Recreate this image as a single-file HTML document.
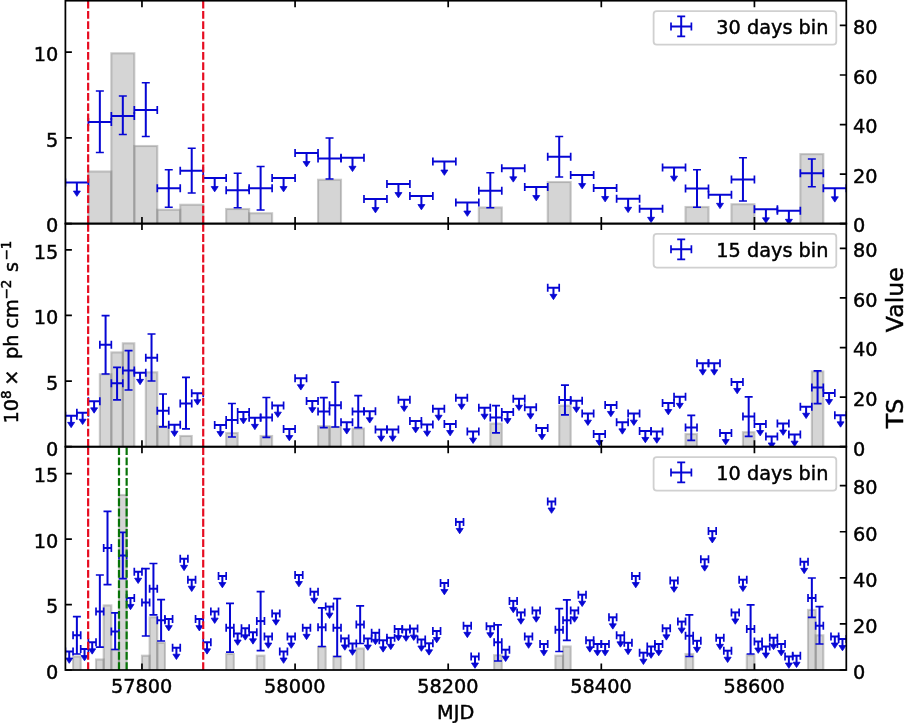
<!DOCTYPE html>
<html lang="en">
<head>
<meta charset="utf-8">
<title>Light curve</title>
<style>html,body{margin:0;padding:0;background:#fff}body{width:904px;height:723px;overflow:hidden}</style>
</head>
<body>
<svg width="904" height="723" viewBox="0 0 904 723" style="display:block;will-change:transform">
<rect x="0" y="0" width="904" height="723" fill="#ffffff"/>
<defs>
<clipPath id="c0"><rect x="65.4" y="0.7" width="780.9" height="222.9"/></clipPath>
<clipPath id="c1"><rect x="65.4" y="223.6" width="780.9" height="223.1"/></clipPath>
<clipPath id="c2"><rect x="65.4" y="446.7" width="780.9" height="223.3"/></clipPath>
</defs>
<g clip-path="url(#c0)">
<g fill="#808080" fill-opacity="0.335" stroke="#808080" stroke-opacity="0.42" stroke-width="2.1">
<rect x="88.37" y="171.5" width="22.97" height="55.1"/>
<rect x="111.34" y="53.3" width="22.97" height="173.3"/>
<rect x="134.3" y="146" width="22.97" height="80.6"/>
<rect x="157.27" y="209.75" width="22.97" height="16.85"/>
<rect x="180.24" y="204.75" width="22.97" height="21.85"/>
<rect x="226.17" y="209" width="22.97" height="17.6"/>
<rect x="249.14" y="213.25" width="22.97" height="13.35"/>
<rect x="318.04" y="179.75" width="22.97" height="46.85"/>
<rect x="478.82" y="207.5" width="22.97" height="19.1"/>
<rect x="547.72" y="182" width="22.97" height="44.6"/>
<rect x="685.53" y="207" width="22.97" height="19.6"/>
<rect x="731.46" y="204.25" width="22.97" height="22.35"/>
<rect x="800.36" y="154.1" width="22.97" height="72.5"/>
</g>
<g stroke="#0606d4" fill="#0606d4" stroke-linecap="butt">
<path d="M65.4 182.5H88.37" stroke-width="2.0"/>
<path d="M65.4 178.5V186.5M88.37 178.5V186.5" stroke-width="1.7"/>
<path d="M76.88 182.5V191.57" stroke-width="2.0"/>
<path d="M73.38 191.07L80.38 191.07L76.88 196.37Z" stroke-width="0.8" stroke-linejoin="miter"/>
<path d="M88.37 122H111.34" stroke-width="2.0"/>
<path d="M88.37 118V126M111.34 118V126" stroke-width="1.7"/>
<path d="M99.85 91V152.5" stroke-width="2.0"/>
<path d="M95.85 91H103.85M95.85 152.5H103.85" stroke-width="1.7"/>
<path d="M111.34 116H134.3" stroke-width="2.0"/>
<path d="M111.34 112V120M134.3 112V120" stroke-width="1.7"/>
<path d="M122.82 96V134.5" stroke-width="2.0"/>
<path d="M118.82 96H126.82M118.82 134.5H126.82" stroke-width="1.7"/>
<path d="M134.3 110H157.27" stroke-width="2.0"/>
<path d="M134.3 106V114M157.27 106V114" stroke-width="1.7"/>
<path d="M145.79 82.75V136.5" stroke-width="2.0"/>
<path d="M141.79 82.75H149.79M141.79 136.5H149.79" stroke-width="1.7"/>
<path d="M157.27 188.25H180.24" stroke-width="2.0"/>
<path d="M157.27 184.25V192.25M180.24 184.25V192.25" stroke-width="1.7"/>
<path d="M168.75 169.75V207.25" stroke-width="2.0"/>
<path d="M164.75 169.75H172.75M164.75 207.25H172.75" stroke-width="1.7"/>
<path d="M180.24 170.75H203.21" stroke-width="2.0"/>
<path d="M180.24 166.75V174.75M203.21 166.75V174.75" stroke-width="1.7"/>
<path d="M191.72 148.25V193" stroke-width="2.0"/>
<path d="M187.72 148.25H195.72M187.72 193H195.72" stroke-width="1.7"/>
<path d="M203.21 178H226.17" stroke-width="2.0"/>
<path d="M203.21 174V182M226.17 174V182" stroke-width="1.7"/>
<path d="M214.69 178V187.07" stroke-width="2.0"/>
<path d="M211.19 186.57L218.19 186.57L214.69 191.87Z" stroke-width="0.8" stroke-linejoin="miter"/>
<path d="M226.17 190.25H249.14" stroke-width="2.0"/>
<path d="M226.17 186.25V194.25M249.14 186.25V194.25" stroke-width="1.7"/>
<path d="M237.66 173.25V207.75" stroke-width="2.0"/>
<path d="M233.66 173.25H241.66M233.66 207.75H241.66" stroke-width="1.7"/>
<path d="M249.14 188.25H272.11" stroke-width="2.0"/>
<path d="M249.14 184.25V192.25M272.11 184.25V192.25" stroke-width="1.7"/>
<path d="M260.62 166.5V210" stroke-width="2.0"/>
<path d="M256.62 166.5H264.62M256.62 210H264.62" stroke-width="1.7"/>
<path d="M272.11 178H295.08" stroke-width="2.0"/>
<path d="M272.11 174V182M295.08 174V182" stroke-width="1.7"/>
<path d="M283.59 178V187.07" stroke-width="2.0"/>
<path d="M280.09 186.57L287.09 186.57L283.59 191.87Z" stroke-width="0.8" stroke-linejoin="miter"/>
<path d="M295.08 153H318.04" stroke-width="2.0"/>
<path d="M295.08 149V157M318.04 149V157" stroke-width="1.7"/>
<path d="M306.56 153V162.07" stroke-width="2.0"/>
<path d="M303.06 161.57L310.06 161.57L306.56 166.87Z" stroke-width="0.8" stroke-linejoin="miter"/>
<path d="M318.04 158.5H341.01" stroke-width="2.0"/>
<path d="M318.04 154.5V162.5M341.01 154.5V162.5" stroke-width="1.7"/>
<path d="M329.53 138V179" stroke-width="2.0"/>
<path d="M325.53 138H333.53M325.53 179H333.53" stroke-width="1.7"/>
<path d="M341.01 157.75H363.98" stroke-width="2.0"/>
<path d="M341.01 153.75V161.75M363.98 153.75V161.75" stroke-width="1.7"/>
<path d="M352.5 157.75V166.82" stroke-width="2.0"/>
<path d="M349 166.32L356 166.32L352.5 171.62Z" stroke-width="0.8" stroke-linejoin="miter"/>
<path d="M363.98 199H386.95" stroke-width="2.0"/>
<path d="M363.98 195V203M386.95 195V203" stroke-width="1.7"/>
<path d="M375.46 199V208.07" stroke-width="2.0"/>
<path d="M371.96 207.57L378.96 207.57L375.46 212.87Z" stroke-width="0.8" stroke-linejoin="miter"/>
<path d="M386.95 184H409.91" stroke-width="2.0"/>
<path d="M386.95 180V188M409.91 180V188" stroke-width="1.7"/>
<path d="M398.43 184V193.07" stroke-width="2.0"/>
<path d="M394.93 192.57L401.93 192.57L398.43 197.87Z" stroke-width="0.8" stroke-linejoin="miter"/>
<path d="M409.91 196H432.88" stroke-width="2.0"/>
<path d="M409.91 192V200M432.88 192V200" stroke-width="1.7"/>
<path d="M421.4 196V205.07" stroke-width="2.0"/>
<path d="M417.9 204.57L424.9 204.57L421.4 209.87Z" stroke-width="0.8" stroke-linejoin="miter"/>
<path d="M432.88 161.5H455.85" stroke-width="2.0"/>
<path d="M432.88 157.5V165.5M455.85 157.5V165.5" stroke-width="1.7"/>
<path d="M444.37 161.5V170.57" stroke-width="2.0"/>
<path d="M440.87 170.07L447.87 170.07L444.37 175.37Z" stroke-width="0.8" stroke-linejoin="miter"/>
<path d="M455.85 202.5H478.82" stroke-width="2.0"/>
<path d="M455.85 198.5V206.5M478.82 198.5V206.5" stroke-width="1.7"/>
<path d="M467.33 202.5V211.57" stroke-width="2.0"/>
<path d="M463.83 211.07L470.83 211.07L467.33 216.37Z" stroke-width="0.8" stroke-linejoin="miter"/>
<path d="M478.82 190.75H501.79" stroke-width="2.0"/>
<path d="M478.82 186.75V194.75M501.79 186.75V194.75" stroke-width="1.7"/>
<path d="M490.3 172.75V207.75" stroke-width="2.0"/>
<path d="M486.3 172.75H494.3M486.3 207.75H494.3" stroke-width="1.7"/>
<path d="M501.79 168.25H524.75" stroke-width="2.0"/>
<path d="M501.79 164.25V172.25M524.75 164.25V172.25" stroke-width="1.7"/>
<path d="M513.27 168.25V177.32" stroke-width="2.0"/>
<path d="M509.77 176.82L516.77 176.82L513.27 182.12Z" stroke-width="0.8" stroke-linejoin="miter"/>
<path d="M524.75 187H547.72" stroke-width="2.0"/>
<path d="M524.75 183V191M547.72 183V191" stroke-width="1.7"/>
<path d="M536.24 187V196.07" stroke-width="2.0"/>
<path d="M532.74 195.57L539.74 195.57L536.24 200.87Z" stroke-width="0.8" stroke-linejoin="miter"/>
<path d="M547.72 156.75H570.69" stroke-width="2.0"/>
<path d="M547.72 152.75V160.75M570.69 152.75V160.75" stroke-width="1.7"/>
<path d="M559.2 136.5V177" stroke-width="2.0"/>
<path d="M555.2 136.5H563.2M555.2 177H563.2" stroke-width="1.7"/>
<path d="M570.69 175H593.66" stroke-width="2.0"/>
<path d="M570.69 171V179M593.66 171V179" stroke-width="1.7"/>
<path d="M582.17 175V184.07" stroke-width="2.0"/>
<path d="M578.67 183.57L585.67 183.57L582.17 188.87Z" stroke-width="0.8" stroke-linejoin="miter"/>
<path d="M593.66 188H616.62" stroke-width="2.0"/>
<path d="M593.66 184V192M616.62 184V192" stroke-width="1.7"/>
<path d="M605.14 188V197.07" stroke-width="2.0"/>
<path d="M601.64 196.57L608.64 196.57L605.14 201.87Z" stroke-width="0.8" stroke-linejoin="miter"/>
<path d="M616.62 198.75H639.59" stroke-width="2.0"/>
<path d="M616.62 194.75V202.75M639.59 194.75V202.75" stroke-width="1.7"/>
<path d="M628.11 198.75V207.82" stroke-width="2.0"/>
<path d="M624.61 207.32L631.61 207.32L628.11 212.62Z" stroke-width="0.8" stroke-linejoin="miter"/>
<path d="M639.59 208.75H662.56" stroke-width="2.0"/>
<path d="M639.59 204.75V212.75M662.56 204.75V212.75" stroke-width="1.7"/>
<path d="M651.07 208.75V217.82" stroke-width="2.0"/>
<path d="M647.57 217.32L654.57 217.32L651.07 222.62Z" stroke-width="0.8" stroke-linejoin="miter"/>
<path d="M662.56 167.6H685.53" stroke-width="2.0"/>
<path d="M662.56 163.6V171.6M685.53 163.6V171.6" stroke-width="1.7"/>
<path d="M674.04 167.6V176.67" stroke-width="2.0"/>
<path d="M670.54 176.17L677.54 176.17L674.04 181.47Z" stroke-width="0.8" stroke-linejoin="miter"/>
<path d="M685.53 188.5H708.49" stroke-width="2.0"/>
<path d="M685.53 184.5V192.5M708.49 184.5V192.5" stroke-width="1.7"/>
<path d="M697.01 169.75V207.25" stroke-width="2.0"/>
<path d="M693.01 169.75H701.01M693.01 207.25H701.01" stroke-width="1.7"/>
<path d="M708.49 194.75H731.46" stroke-width="2.0"/>
<path d="M708.49 190.75V198.75M731.46 190.75V198.75" stroke-width="1.7"/>
<path d="M719.98 194.75V203.82" stroke-width="2.0"/>
<path d="M716.48 203.32L723.48 203.32L719.98 208.62Z" stroke-width="0.8" stroke-linejoin="miter"/>
<path d="M731.46 179.5H754.43" stroke-width="2.0"/>
<path d="M731.46 175.5V183.5M754.43 175.5V183.5" stroke-width="1.7"/>
<path d="M742.95 157.75V201" stroke-width="2.0"/>
<path d="M738.95 157.75H746.95M738.95 201H746.95" stroke-width="1.7"/>
<path d="M754.43 209.25H777.4" stroke-width="2.0"/>
<path d="M754.43 205.25V213.25M777.4 205.25V213.25" stroke-width="1.7"/>
<path d="M765.91 209.25V218.32" stroke-width="2.0"/>
<path d="M762.41 217.82L769.41 217.82L765.91 223.12Z" stroke-width="0.8" stroke-linejoin="miter"/>
<path d="M777.4 210.75H800.36" stroke-width="2.0"/>
<path d="M777.4 206.75V214.75M800.36 206.75V214.75" stroke-width="1.7"/>
<path d="M788.88 210.75V219.82" stroke-width="2.0"/>
<path d="M785.38 219.32L792.38 219.32L788.88 224.62Z" stroke-width="0.8" stroke-linejoin="miter"/>
<path d="M800.36 173.25H823.33" stroke-width="2.0"/>
<path d="M800.36 169.25V177.25M823.33 169.25V177.25" stroke-width="1.7"/>
<path d="M811.85 159V186.75" stroke-width="2.0"/>
<path d="M807.85 159H815.85M807.85 186.75H815.85" stroke-width="1.7"/>
<path d="M823.33 188.25H846.3" stroke-width="2.0"/>
<path d="M823.33 184.25V192.25M846.3 184.25V192.25" stroke-width="1.7"/>
<path d="M834.82 188.25V197.32" stroke-width="2.0"/>
<path d="M831.32 196.82L838.32 196.82L834.82 202.12Z" stroke-width="0.8" stroke-linejoin="miter"/>
</g>
<line x1="88.14" x2="88.14" y1="223.6" y2="0.7" stroke="#e60c20" stroke-width="2.2" stroke-dasharray="7.8 2.44"/>
<line x1="203.21" x2="203.21" y1="223.6" y2="0.7" stroke="#e60c20" stroke-width="2.2" stroke-dasharray="7.8 2.44"/>
</g>
<g clip-path="url(#c1)">
<g fill="#808080" fill-opacity="0.335" stroke="#808080" stroke-opacity="0.42" stroke-width="2.1">
<rect x="99.85" y="374.25" width="11.48" height="75.45"/>
<rect x="111.34" y="352.4" width="11.48" height="97.3"/>
<rect x="122.82" y="343.3" width="11.48" height="106.4"/>
<rect x="145.79" y="372.3" width="11.48" height="77.4"/>
<rect x="157.27" y="426.3" width="11.48" height="23.4"/>
<rect x="180.24" y="436" width="11.48" height="13.7"/>
<rect x="226.17" y="433" width="11.48" height="16.7"/>
<rect x="260.62" y="436" width="11.48" height="13.7"/>
<rect x="318.04" y="426.2" width="11.48" height="23.5"/>
<rect x="329.53" y="427" width="11.48" height="22.7"/>
<rect x="352.5" y="428.6" width="11.48" height="21.1"/>
<rect x="490.3" y="423.6" width="11.48" height="26.1"/>
<rect x="559.2" y="405.7" width="11.48" height="44"/>
<rect x="685.53" y="434.1" width="11.48" height="15.6"/>
<rect x="742.95" y="432.2" width="11.48" height="17.5"/>
<rect x="811.85" y="371.5" width="11.48" height="78.2"/>
</g>
<g stroke="#0606d4" fill="#0606d4" stroke-linecap="butt">
<path d="M65.4 415.8H76.88" stroke-width="2.0"/>
<path d="M65.4 411.8V419.8M76.88 411.8V419.8" stroke-width="1.7"/>
<path d="M71.14 415.8V422.86" stroke-width="2.0"/>
<path d="M67.64 422.36L74.64 422.36L71.14 427.66Z" stroke-width="0.8" stroke-linejoin="miter"/>
<path d="M76.88 412.7H88.37" stroke-width="2.0"/>
<path d="M76.88 408.7V416.7M88.37 408.7V416.7" stroke-width="1.7"/>
<path d="M82.63 412.7V419.76" stroke-width="2.0"/>
<path d="M79.13 419.26L86.13 419.26L82.63 424.56Z" stroke-width="0.8" stroke-linejoin="miter"/>
<path d="M88.37 401.3H99.85" stroke-width="2.0"/>
<path d="M88.37 397.3V405.3M99.85 397.3V405.3" stroke-width="1.7"/>
<path d="M94.11 401.3V408.36" stroke-width="2.0"/>
<path d="M90.61 407.86L97.61 407.86L94.11 413.16Z" stroke-width="0.8" stroke-linejoin="miter"/>
<path d="M99.85 344.7H111.34" stroke-width="2.0"/>
<path d="M99.85 340.7V348.7M111.34 340.7V348.7" stroke-width="1.7"/>
<path d="M105.59 315.6V374" stroke-width="2.0"/>
<path d="M101.59 315.6H109.59M101.59 374H109.59" stroke-width="1.7"/>
<path d="M111.34 383.3H122.82" stroke-width="2.0"/>
<path d="M111.34 379.3V387.3M122.82 379.3V387.3" stroke-width="1.7"/>
<path d="M117.08 367.3V399.9" stroke-width="2.0"/>
<path d="M113.08 367.3H121.08M113.08 399.9H121.08" stroke-width="1.7"/>
<path d="M122.82 370.4H134.3" stroke-width="2.0"/>
<path d="M122.82 366.4V374.4M134.3 366.4V374.4" stroke-width="1.7"/>
<path d="M128.56 350.7V390" stroke-width="2.0"/>
<path d="M124.56 350.7H132.56M124.56 390H132.56" stroke-width="1.7"/>
<path d="M134.3 372.8H145.79" stroke-width="2.0"/>
<path d="M134.3 368.8V376.8M145.79 368.8V376.8" stroke-width="1.7"/>
<path d="M140.04 372.8V379.86" stroke-width="2.0"/>
<path d="M136.54 379.36L143.54 379.36L140.04 384.66Z" stroke-width="0.8" stroke-linejoin="miter"/>
<path d="M145.79 357.8H157.27" stroke-width="2.0"/>
<path d="M145.79 353.8V361.8M157.27 353.8V361.8" stroke-width="1.7"/>
<path d="M151.53 334V381" stroke-width="2.0"/>
<path d="M147.53 334H155.53M147.53 381H155.53" stroke-width="1.7"/>
<path d="M157.27 410.7H168.75" stroke-width="2.0"/>
<path d="M157.27 406.7V414.7M168.75 406.7V414.7" stroke-width="1.7"/>
<path d="M163.01 394V426.8" stroke-width="2.0"/>
<path d="M159.01 394H167.01M159.01 426.8H167.01" stroke-width="1.7"/>
<path d="M168.75 424.7H180.24" stroke-width="2.0"/>
<path d="M168.75 420.7V428.7M180.24 420.7V428.7" stroke-width="1.7"/>
<path d="M174.5 424.7V431.76" stroke-width="2.0"/>
<path d="M171 431.26L178 431.26L174.5 436.56Z" stroke-width="0.8" stroke-linejoin="miter"/>
<path d="M180.24 403.5H191.72" stroke-width="2.0"/>
<path d="M180.24 399.5V407.5M191.72 399.5V407.5" stroke-width="1.7"/>
<path d="M185.98 377.3V428.8" stroke-width="2.0"/>
<path d="M181.98 377.3H189.98M181.98 428.8H189.98" stroke-width="1.7"/>
<path d="M191.72 393.2H203.21" stroke-width="2.0"/>
<path d="M191.72 389.2V397.2M203.21 389.2V397.2" stroke-width="1.7"/>
<path d="M197.46 393.2V400.26" stroke-width="2.0"/>
<path d="M193.96 399.76L200.96 399.76L197.46 405.06Z" stroke-width="0.8" stroke-linejoin="miter"/>
<path d="M214.69 425H226.17" stroke-width="2.0"/>
<path d="M214.69 421V429M226.17 421V429" stroke-width="1.7"/>
<path d="M220.43 425V432.06" stroke-width="2.0"/>
<path d="M216.93 431.56L223.93 431.56L220.43 436.86Z" stroke-width="0.8" stroke-linejoin="miter"/>
<path d="M226.17 420H237.66" stroke-width="2.0"/>
<path d="M226.17 416V424M237.66 416V424" stroke-width="1.7"/>
<path d="M231.92 403.5V437" stroke-width="2.0"/>
<path d="M227.92 403.5H235.92M227.92 437H235.92" stroke-width="1.7"/>
<path d="M237.66 412H249.14" stroke-width="2.0"/>
<path d="M237.66 408V416M249.14 408V416" stroke-width="1.7"/>
<path d="M243.4 412V419.06" stroke-width="2.0"/>
<path d="M239.9 418.56L246.9 418.56L243.4 423.86Z" stroke-width="0.8" stroke-linejoin="miter"/>
<path d="M249.14 417.8H260.62" stroke-width="2.0"/>
<path d="M249.14 413.8V421.8M260.62 413.8V421.8" stroke-width="1.7"/>
<path d="M254.88 417.8V424.86" stroke-width="2.0"/>
<path d="M251.38 424.36L258.38 424.36L254.88 429.66Z" stroke-width="0.8" stroke-linejoin="miter"/>
<path d="M260.62 417.5H272.11" stroke-width="2.0"/>
<path d="M260.62 413.5V421.5M272.11 413.5V421.5" stroke-width="1.7"/>
<path d="M266.37 397.5V437.3" stroke-width="2.0"/>
<path d="M262.37 397.5H270.37M262.37 437.3H270.37" stroke-width="1.7"/>
<path d="M272.11 405.6H283.59" stroke-width="2.0"/>
<path d="M272.11 401.6V409.6M283.59 401.6V409.6" stroke-width="1.7"/>
<path d="M277.85 405.6V412.66" stroke-width="2.0"/>
<path d="M274.35 412.16L281.35 412.16L277.85 417.46Z" stroke-width="0.8" stroke-linejoin="miter"/>
<path d="M283.59 429H295.08" stroke-width="2.0"/>
<path d="M283.59 425V433M295.08 425V433" stroke-width="1.7"/>
<path d="M289.33 429V436.06" stroke-width="2.0"/>
<path d="M285.83 435.56L292.83 435.56L289.33 440.86Z" stroke-width="0.8" stroke-linejoin="miter"/>
<path d="M295.08 378.2H306.56" stroke-width="2.0"/>
<path d="M295.08 374.2V382.2M306.56 374.2V382.2" stroke-width="1.7"/>
<path d="M300.82 378.2V385.26" stroke-width="2.0"/>
<path d="M297.32 384.76L304.32 384.76L300.82 390.06Z" stroke-width="0.8" stroke-linejoin="miter"/>
<path d="M306.56 401.1H318.04" stroke-width="2.0"/>
<path d="M306.56 397.1V405.1M318.04 397.1V405.1" stroke-width="1.7"/>
<path d="M312.3 401.1V408.16" stroke-width="2.0"/>
<path d="M308.8 407.66L315.8 407.66L312.3 412.96Z" stroke-width="0.8" stroke-linejoin="miter"/>
<path d="M318.04 411.6H329.53" stroke-width="2.0"/>
<path d="M318.04 407.6V415.6M329.53 407.6V415.6" stroke-width="1.7"/>
<path d="M323.79 397.7V427.6" stroke-width="2.0"/>
<path d="M319.79 397.7H327.79M319.79 427.6H327.79" stroke-width="1.7"/>
<path d="M329.53 405.3H341.01" stroke-width="2.0"/>
<path d="M329.53 401.3V409.3M341.01 401.3V409.3" stroke-width="1.7"/>
<path d="M335.27 382.2V427" stroke-width="2.0"/>
<path d="M331.27 382.2H339.27M331.27 427H339.27" stroke-width="1.7"/>
<path d="M341.01 422.2H352.5" stroke-width="2.0"/>
<path d="M341.01 418.2V426.2M352.5 418.2V426.2" stroke-width="1.7"/>
<path d="M346.75 422.2V429.26" stroke-width="2.0"/>
<path d="M343.25 428.76L350.25 428.76L346.75 434.06Z" stroke-width="0.8" stroke-linejoin="miter"/>
<path d="M352.5 411.6H363.98" stroke-width="2.0"/>
<path d="M352.5 407.6V415.6M363.98 407.6V415.6" stroke-width="1.7"/>
<path d="M358.24 395.7V427.6" stroke-width="2.0"/>
<path d="M354.24 395.7H362.24M354.24 427.6H362.24" stroke-width="1.7"/>
<path d="M363.98 411.2H375.46" stroke-width="2.0"/>
<path d="M363.98 407.2V415.2M375.46 407.2V415.2" stroke-width="1.7"/>
<path d="M369.72 411.2V418.26" stroke-width="2.0"/>
<path d="M366.22 417.76L373.22 417.76L369.72 423.06Z" stroke-width="0.8" stroke-linejoin="miter"/>
<path d="M375.46 429.6H386.95" stroke-width="2.0"/>
<path d="M375.46 425.6V433.6M386.95 425.6V433.6" stroke-width="1.7"/>
<path d="M381.21 429.6V436.66" stroke-width="2.0"/>
<path d="M377.71 436.16L384.71 436.16L381.21 441.46Z" stroke-width="0.8" stroke-linejoin="miter"/>
<path d="M386.95 429.6H398.43" stroke-width="2.0"/>
<path d="M386.95 425.6V433.6M398.43 425.6V433.6" stroke-width="1.7"/>
<path d="M392.69 429.6V436.66" stroke-width="2.0"/>
<path d="M389.19 436.16L396.19 436.16L392.69 441.46Z" stroke-width="0.8" stroke-linejoin="miter"/>
<path d="M398.43 399.7H409.91" stroke-width="2.0"/>
<path d="M398.43 395.7V403.7M409.91 395.7V403.7" stroke-width="1.7"/>
<path d="M404.17 399.7V406.76" stroke-width="2.0"/>
<path d="M400.67 406.26L407.67 406.26L404.17 411.56Z" stroke-width="0.8" stroke-linejoin="miter"/>
<path d="M409.91 421H421.4" stroke-width="2.0"/>
<path d="M409.91 417V425M421.4 417V425" stroke-width="1.7"/>
<path d="M415.66 421V428.06" stroke-width="2.0"/>
<path d="M412.16 427.56L419.16 427.56L415.66 432.86Z" stroke-width="0.8" stroke-linejoin="miter"/>
<path d="M421.4 424.6H432.88" stroke-width="2.0"/>
<path d="M421.4 420.6V428.6M432.88 420.6V428.6" stroke-width="1.7"/>
<path d="M427.14 424.6V431.66" stroke-width="2.0"/>
<path d="M423.64 431.16L430.64 431.16L427.14 436.46Z" stroke-width="0.8" stroke-linejoin="miter"/>
<path d="M432.88 408.7H444.37" stroke-width="2.0"/>
<path d="M432.88 404.7V412.7M444.37 404.7V412.7" stroke-width="1.7"/>
<path d="M438.62 408.7V415.76" stroke-width="2.0"/>
<path d="M435.12 415.26L442.12 415.26L438.62 420.56Z" stroke-width="0.8" stroke-linejoin="miter"/>
<path d="M444.37 424H455.85" stroke-width="2.0"/>
<path d="M444.37 420V428M455.85 420V428" stroke-width="1.7"/>
<path d="M450.11 424V431.06" stroke-width="2.0"/>
<path d="M446.61 430.56L453.61 430.56L450.11 435.86Z" stroke-width="0.8" stroke-linejoin="miter"/>
<path d="M455.85 397.7H467.33" stroke-width="2.0"/>
<path d="M455.85 393.7V401.7M467.33 393.7V401.7" stroke-width="1.7"/>
<path d="M461.59 397.7V404.76" stroke-width="2.0"/>
<path d="M458.09 404.26L465.09 404.26L461.59 409.56Z" stroke-width="0.8" stroke-linejoin="miter"/>
<path d="M467.33 431.6H478.82" stroke-width="2.0"/>
<path d="M467.33 427.6V435.6M478.82 427.6V435.6" stroke-width="1.7"/>
<path d="M473.08 431.6V438.66" stroke-width="2.0"/>
<path d="M469.58 438.16L476.58 438.16L473.08 443.46Z" stroke-width="0.8" stroke-linejoin="miter"/>
<path d="M478.82 407.7H490.3" stroke-width="2.0"/>
<path d="M478.82 403.7V411.7M490.3 403.7V411.7" stroke-width="1.7"/>
<path d="M484.56 407.7V414.76" stroke-width="2.0"/>
<path d="M481.06 414.26L488.06 414.26L484.56 419.56Z" stroke-width="0.8" stroke-linejoin="miter"/>
<path d="M490.3 417.6H501.79" stroke-width="2.0"/>
<path d="M490.3 413.6V421.6M501.79 413.6V421.6" stroke-width="1.7"/>
<path d="M496.04 405.7V432.9" stroke-width="2.0"/>
<path d="M492.04 405.7H500.04M492.04 432.9H500.04" stroke-width="1.7"/>
<path d="M501.79 412H513.27" stroke-width="2.0"/>
<path d="M501.79 408V416M513.27 408V416" stroke-width="1.7"/>
<path d="M507.53 412V419.06" stroke-width="2.0"/>
<path d="M504.03 418.56L511.03 418.56L507.53 423.86Z" stroke-width="0.8" stroke-linejoin="miter"/>
<path d="M513.27 398.7H524.75" stroke-width="2.0"/>
<path d="M513.27 394.7V402.7M524.75 394.7V402.7" stroke-width="1.7"/>
<path d="M519.01 398.7V405.76" stroke-width="2.0"/>
<path d="M515.51 405.26L522.51 405.26L519.01 410.56Z" stroke-width="0.8" stroke-linejoin="miter"/>
<path d="M524.75 407.3H536.24" stroke-width="2.0"/>
<path d="M524.75 403.3V411.3M536.24 403.3V411.3" stroke-width="1.7"/>
<path d="M530.49 407.3V414.36" stroke-width="2.0"/>
<path d="M526.99 413.86L533.99 413.86L530.49 419.16Z" stroke-width="0.8" stroke-linejoin="miter"/>
<path d="M536.24 428H547.72" stroke-width="2.0"/>
<path d="M536.24 424V432M547.72 424V432" stroke-width="1.7"/>
<path d="M541.98 428V435.06" stroke-width="2.0"/>
<path d="M538.48 434.56L545.48 434.56L541.98 439.86Z" stroke-width="0.8" stroke-linejoin="miter"/>
<path d="M547.72 287.8H559.2" stroke-width="2.0"/>
<path d="M547.72 283.8V291.8M559.2 283.8V291.8" stroke-width="1.7"/>
<path d="M553.46 287.8V294.86" stroke-width="2.0"/>
<path d="M549.96 294.36L556.96 294.36L553.46 299.66Z" stroke-width="0.8" stroke-linejoin="miter"/>
<path d="M559.2 400H570.69" stroke-width="2.0"/>
<path d="M559.2 396V404M570.69 396V404" stroke-width="1.7"/>
<path d="M564.95 385.1V414.8" stroke-width="2.0"/>
<path d="M560.95 385.1H568.95M560.95 414.8H568.95" stroke-width="1.7"/>
<path d="M570.69 400.7H582.17" stroke-width="2.0"/>
<path d="M570.69 396.7V404.7M582.17 396.7V404.7" stroke-width="1.7"/>
<path d="M576.43 400.7V407.76" stroke-width="2.0"/>
<path d="M572.93 407.26L579.93 407.26L576.43 412.56Z" stroke-width="0.8" stroke-linejoin="miter"/>
<path d="M582.17 413.6H593.66" stroke-width="2.0"/>
<path d="M582.17 409.6V417.6M593.66 409.6V417.6" stroke-width="1.7"/>
<path d="M587.91 413.6V420.66" stroke-width="2.0"/>
<path d="M584.41 420.16L591.41 420.16L587.91 425.46Z" stroke-width="0.8" stroke-linejoin="miter"/>
<path d="M593.66 433.9H605.14" stroke-width="2.0"/>
<path d="M593.66 429.9V437.9M605.14 429.9V437.9" stroke-width="1.7"/>
<path d="M599.4 433.9V440.96" stroke-width="2.0"/>
<path d="M595.9 440.46L602.9 440.46L599.4 445.76Z" stroke-width="0.8" stroke-linejoin="miter"/>
<path d="M605.14 404.9H616.62" stroke-width="2.0"/>
<path d="M605.14 400.9V408.9M616.62 400.9V408.9" stroke-width="1.7"/>
<path d="M610.88 404.9V411.96" stroke-width="2.0"/>
<path d="M607.38 411.46L614.38 411.46L610.88 416.76Z" stroke-width="0.8" stroke-linejoin="miter"/>
<path d="M616.62 422.3H628.11" stroke-width="2.0"/>
<path d="M616.62 418.3V426.3M628.11 418.3V426.3" stroke-width="1.7"/>
<path d="M622.37 422.3V429.36" stroke-width="2.0"/>
<path d="M618.87 428.86L625.87 428.86L622.37 434.16Z" stroke-width="0.8" stroke-linejoin="miter"/>
<path d="M628.11 413.6H639.59" stroke-width="2.0"/>
<path d="M628.11 409.6V417.6M639.59 409.6V417.6" stroke-width="1.7"/>
<path d="M633.85 413.6V420.66" stroke-width="2.0"/>
<path d="M630.35 420.16L637.35 420.16L633.85 425.46Z" stroke-width="0.8" stroke-linejoin="miter"/>
<path d="M639.59 430.9H651.07" stroke-width="2.0"/>
<path d="M639.59 426.9V434.9M651.07 426.9V434.9" stroke-width="1.7"/>
<path d="M645.33 430.9V437.96" stroke-width="2.0"/>
<path d="M641.83 437.46L648.83 437.46L645.33 442.76Z" stroke-width="0.8" stroke-linejoin="miter"/>
<path d="M651.07 431.4H662.56" stroke-width="2.0"/>
<path d="M651.07 427.4V435.4M662.56 427.4V435.4" stroke-width="1.7"/>
<path d="M656.82 431.4V438.46" stroke-width="2.0"/>
<path d="M653.32 437.96L660.32 437.96L656.82 443.26Z" stroke-width="0.8" stroke-linejoin="miter"/>
<path d="M662.56 403H674.04" stroke-width="2.0"/>
<path d="M662.56 399V407M674.04 399V407" stroke-width="1.7"/>
<path d="M668.3 403V410.06" stroke-width="2.0"/>
<path d="M664.8 409.56L671.8 409.56L668.3 414.86Z" stroke-width="0.8" stroke-linejoin="miter"/>
<path d="M674.04 396.8H685.53" stroke-width="2.0"/>
<path d="M674.04 392.8V400.8M685.53 392.8V400.8" stroke-width="1.7"/>
<path d="M679.78 396.8V403.86" stroke-width="2.0"/>
<path d="M676.28 403.36L683.28 403.36L679.78 408.66Z" stroke-width="0.8" stroke-linejoin="miter"/>
<path d="M685.53 427.5H697.01" stroke-width="2.0"/>
<path d="M685.53 423.5V431.5M697.01 423.5V431.5" stroke-width="1.7"/>
<path d="M691.27 415.3V440.3" stroke-width="2.0"/>
<path d="M687.27 415.3H695.27M687.27 440.3H695.27" stroke-width="1.7"/>
<path d="M697.01 363.3H708.49" stroke-width="2.0"/>
<path d="M697.01 359.3V367.3M708.49 359.3V367.3" stroke-width="1.7"/>
<path d="M702.75 363.3V370.36" stroke-width="2.0"/>
<path d="M699.25 369.86L706.25 369.86L702.75 375.16Z" stroke-width="0.8" stroke-linejoin="miter"/>
<path d="M708.49 363.3H719.98" stroke-width="2.0"/>
<path d="M708.49 359.3V367.3M719.98 359.3V367.3" stroke-width="1.7"/>
<path d="M714.24 363.3V370.36" stroke-width="2.0"/>
<path d="M710.74 369.86L717.74 369.86L714.24 375.16Z" stroke-width="0.8" stroke-linejoin="miter"/>
<path d="M719.98 433H731.46" stroke-width="2.0"/>
<path d="M719.98 429V437M731.46 429V437" stroke-width="1.7"/>
<path d="M725.72 433V440.06" stroke-width="2.0"/>
<path d="M722.22 439.56L729.22 439.56L725.72 444.86Z" stroke-width="0.8" stroke-linejoin="miter"/>
<path d="M731.46 381.9H742.95" stroke-width="2.0"/>
<path d="M731.46 377.9V385.9M742.95 377.9V385.9" stroke-width="1.7"/>
<path d="M737.2 381.9V388.96" stroke-width="2.0"/>
<path d="M733.7 388.46L740.7 388.46L737.2 393.76Z" stroke-width="0.8" stroke-linejoin="miter"/>
<path d="M742.95 416.6H754.43" stroke-width="2.0"/>
<path d="M742.95 412.6V420.6M754.43 412.6V420.6" stroke-width="1.7"/>
<path d="M748.69 396.8V436.4" stroke-width="2.0"/>
<path d="M744.69 396.8H752.69M744.69 436.4H752.69" stroke-width="1.7"/>
<path d="M754.43 424H765.91" stroke-width="2.0"/>
<path d="M754.43 420V428M765.91 420V428" stroke-width="1.7"/>
<path d="M760.17 424V431.06" stroke-width="2.0"/>
<path d="M756.67 430.56L763.67 430.56L760.17 435.86Z" stroke-width="0.8" stroke-linejoin="miter"/>
<path d="M765.91 436.4H777.4" stroke-width="2.0"/>
<path d="M765.91 432.4V440.4M777.4 432.4V440.4" stroke-width="1.7"/>
<path d="M771.66 436.4V443.46" stroke-width="2.0"/>
<path d="M768.16 442.96L775.16 442.96L771.66 448.26Z" stroke-width="0.8" stroke-linejoin="miter"/>
<path d="M777.4 423.5H788.88" stroke-width="2.0"/>
<path d="M777.4 419.5V427.5M788.88 419.5V427.5" stroke-width="1.7"/>
<path d="M783.14 423.5V430.56" stroke-width="2.0"/>
<path d="M779.64 430.06L786.64 430.06L783.14 435.36Z" stroke-width="0.8" stroke-linejoin="miter"/>
<path d="M788.88 434.6H800.36" stroke-width="2.0"/>
<path d="M788.88 430.6V438.6M800.36 430.6V438.6" stroke-width="1.7"/>
<path d="M794.62 434.6V441.66" stroke-width="2.0"/>
<path d="M791.12 441.16L798.12 441.16L794.62 446.46Z" stroke-width="0.8" stroke-linejoin="miter"/>
<path d="M800.36 406.7H811.85" stroke-width="2.0"/>
<path d="M800.36 402.7V410.7M811.85 402.7V410.7" stroke-width="1.7"/>
<path d="M806.11 406.7V413.76" stroke-width="2.0"/>
<path d="M802.61 413.26L809.61 413.26L806.11 418.56Z" stroke-width="0.8" stroke-linejoin="miter"/>
<path d="M811.85 387.6H823.33" stroke-width="2.0"/>
<path d="M811.85 383.6V391.6M823.33 383.6V391.6" stroke-width="1.7"/>
<path d="M817.59 370.8V403.7" stroke-width="2.0"/>
<path d="M813.59 370.8H821.59M813.59 403.7H821.59" stroke-width="1.7"/>
<path d="M823.33 393H834.82" stroke-width="2.0"/>
<path d="M823.33 389V397M834.82 389V397" stroke-width="1.7"/>
<path d="M829.07 393V400.06" stroke-width="2.0"/>
<path d="M825.57 399.56L832.57 399.56L829.07 404.86Z" stroke-width="0.8" stroke-linejoin="miter"/>
<path d="M834.82 415.3H846.3" stroke-width="2.0"/>
<path d="M834.82 411.3V419.3M846.3 411.3V419.3" stroke-width="1.7"/>
<path d="M840.56 415.3V422.36" stroke-width="2.0"/>
<path d="M837.06 421.86L844.06 421.86L840.56 427.16Z" stroke-width="0.8" stroke-linejoin="miter"/>
</g>
<line x1="88.14" x2="88.14" y1="446.7" y2="223.6" stroke="#e60c20" stroke-width="2.2" stroke-dasharray="7.8 2.44"/>
<line x1="203.21" x2="203.21" y1="446.7" y2="223.6" stroke="#e60c20" stroke-width="2.2" stroke-dasharray="7.8 2.44"/>
</g>
<g clip-path="url(#c2)">
<g fill="#808080" fill-opacity="0.335" stroke="#808080" stroke-opacity="0.42" stroke-width="2.1">
<rect x="73.06" y="656.5" width="7.66" height="16.5"/>
<rect x="96.02" y="659.5" width="7.66" height="13.5"/>
<rect x="103.68" y="605.4" width="7.66" height="67.6"/>
<rect x="111.34" y="649.5" width="7.66" height="23.5"/>
<rect x="118.99" y="495" width="7.66" height="178"/>
<rect x="141.96" y="655.7" width="7.66" height="17.3"/>
<rect x="149.61" y="617.3" width="7.66" height="55.7"/>
<rect x="157.27" y="642.8" width="7.66" height="30.2"/>
<rect x="226.17" y="654" width="7.66" height="19"/>
<rect x="256.8" y="655.7" width="7.66" height="17.3"/>
<rect x="318.04" y="647" width="7.66" height="26"/>
<rect x="333.36" y="656.5" width="7.66" height="16.5"/>
<rect x="356.32" y="648.5" width="7.66" height="24.5"/>
<rect x="494.13" y="655.2" width="7.66" height="17.8"/>
<rect x="555.38" y="655.7" width="7.66" height="17.3"/>
<rect x="563.03" y="646.5" width="7.66" height="26.5"/>
<rect x="685.53" y="654" width="7.66" height="19"/>
<rect x="746.77" y="655.2" width="7.66" height="17.8"/>
<rect x="808.02" y="609.9" width="7.66" height="63.1"/>
<rect x="815.68" y="635.3" width="7.66" height="37.7"/>
</g>
<g stroke="#0606d4" fill="#0606d4" stroke-linecap="butt">
<path d="M65.4 651.5H73.06" stroke-width="2.0"/>
<path d="M65.4 647.5V655.5M73.06 647.5V655.5" stroke-width="1.7"/>
<path d="M69.23 651.5V658.54" stroke-width="2.0"/>
<path d="M65.73 658.04L72.73 658.04L69.23 663.34Z" stroke-width="0.8" stroke-linejoin="miter"/>
<path d="M73.06 635.3H80.71" stroke-width="2.0"/>
<path d="M73.06 631.3V639.3M80.71 631.3V639.3" stroke-width="1.7"/>
<path d="M76.88 616.6V654" stroke-width="2.0"/>
<path d="M72.88 616.6H80.88M72.88 654H80.88" stroke-width="1.7"/>
<path d="M80.71 649H88.37" stroke-width="2.0"/>
<path d="M80.71 645V653M88.37 645V653" stroke-width="1.7"/>
<path d="M84.54 649V656.04" stroke-width="2.0"/>
<path d="M81.04 655.54L88.04 655.54L84.54 660.84Z" stroke-width="0.8" stroke-linejoin="miter"/>
<path d="M88.37 642.3H96.02" stroke-width="2.0"/>
<path d="M88.37 638.3V646.3M96.02 638.3V646.3" stroke-width="1.7"/>
<path d="M92.2 642.3V649.34" stroke-width="2.0"/>
<path d="M88.7 648.84L95.7 648.84L92.2 654.14Z" stroke-width="0.8" stroke-linejoin="miter"/>
<path d="M96.02 611.6H103.68" stroke-width="2.0"/>
<path d="M96.02 607.6V615.6M103.68 607.6V615.6" stroke-width="1.7"/>
<path d="M99.85 575V647.2" stroke-width="2.0"/>
<path d="M95.85 575H103.85M95.85 647.2H103.85" stroke-width="1.7"/>
<path d="M103.68 548.1H111.34" stroke-width="2.0"/>
<path d="M103.68 544.1V552.1M111.34 544.1V552.1" stroke-width="1.7"/>
<path d="M107.51 511.4V584.7" stroke-width="2.0"/>
<path d="M103.51 511.4H111.51M103.51 584.7H111.51" stroke-width="1.7"/>
<path d="M111.34 631.5H118.99" stroke-width="2.0"/>
<path d="M111.34 627.5V635.5M118.99 627.5V635.5" stroke-width="1.7"/>
<path d="M115.16 612.9V649.5" stroke-width="2.0"/>
<path d="M111.16 612.9H119.16M111.16 649.5H119.16" stroke-width="1.7"/>
<path d="M118.99 555.5H126.65" stroke-width="2.0"/>
<path d="M118.99 551.5V559.5M126.65 551.5V559.5" stroke-width="1.7"/>
<path d="M122.82 532.4V578.7" stroke-width="2.0"/>
<path d="M118.82 532.4H126.82M118.82 578.7H126.82" stroke-width="1.7"/>
<path d="M126.65 597.9H134.3" stroke-width="2.0"/>
<path d="M126.65 593.9V601.9M134.3 593.9V601.9" stroke-width="1.7"/>
<path d="M130.47 597.9V604.94" stroke-width="2.0"/>
<path d="M126.97 604.44L133.97 604.44L130.47 609.74Z" stroke-width="0.8" stroke-linejoin="miter"/>
<path d="M134.3 571.7H141.96" stroke-width="2.0"/>
<path d="M134.3 567.7V575.7M141.96 567.7V575.7" stroke-width="1.7"/>
<path d="M138.13 571.7V578.74" stroke-width="2.0"/>
<path d="M134.63 578.24L141.63 578.24L138.13 583.54Z" stroke-width="0.8" stroke-linejoin="miter"/>
<path d="M141.96 602.4H149.61" stroke-width="2.0"/>
<path d="M141.96 598.4V606.4M149.61 598.4V606.4" stroke-width="1.7"/>
<path d="M145.79 568.7V636" stroke-width="2.0"/>
<path d="M141.79 568.7H149.79M141.79 636H149.79" stroke-width="1.7"/>
<path d="M149.61 588.7H157.27" stroke-width="2.0"/>
<path d="M149.61 584.7V592.7M157.27 584.7V592.7" stroke-width="1.7"/>
<path d="M153.44 563.5V614.9" stroke-width="2.0"/>
<path d="M149.44 563.5H157.44M149.44 614.9H157.44" stroke-width="1.7"/>
<path d="M157.27 620.3H164.93" stroke-width="2.0"/>
<path d="M157.27 616.3V624.3M164.93 616.3V624.3" stroke-width="1.7"/>
<path d="M161.1 599.6V641" stroke-width="2.0"/>
<path d="M157.1 599.6H165.1M157.1 641H165.1" stroke-width="1.7"/>
<path d="M164.93 619.1H172.58" stroke-width="2.0"/>
<path d="M164.93 615.1V623.1M172.58 615.1V623.1" stroke-width="1.7"/>
<path d="M168.75 619.1V626.14" stroke-width="2.0"/>
<path d="M165.25 625.64L172.25 625.64L168.75 630.94Z" stroke-width="0.8" stroke-linejoin="miter"/>
<path d="M172.58 647.7H180.24" stroke-width="2.0"/>
<path d="M172.58 643.7V651.7M180.24 643.7V651.7" stroke-width="1.7"/>
<path d="M176.41 647.7V654.74" stroke-width="2.0"/>
<path d="M172.91 654.24L179.91 654.24L176.41 659.54Z" stroke-width="0.8" stroke-linejoin="miter"/>
<path d="M180.24 558.8H187.89" stroke-width="2.0"/>
<path d="M180.24 554.8V562.8M187.89 554.8V562.8" stroke-width="1.7"/>
<path d="M184.07 558.8V565.84" stroke-width="2.0"/>
<path d="M180.57 565.34L187.57 565.34L184.07 570.64Z" stroke-width="0.8" stroke-linejoin="miter"/>
<path d="M187.89 579.7H195.55" stroke-width="2.0"/>
<path d="M187.89 575.7V583.7M195.55 575.7V583.7" stroke-width="1.7"/>
<path d="M191.72 579.7V586.74" stroke-width="2.0"/>
<path d="M188.22 586.24L195.22 586.24L191.72 591.54Z" stroke-width="0.8" stroke-linejoin="miter"/>
<path d="M195.55 619.1H203.21" stroke-width="2.0"/>
<path d="M195.55 615.1V623.1M203.21 615.1V623.1" stroke-width="1.7"/>
<path d="M199.38 619.1V626.14" stroke-width="2.0"/>
<path d="M195.88 625.64L202.88 625.64L199.38 630.94Z" stroke-width="0.8" stroke-linejoin="miter"/>
<path d="M203.21 642.3H210.86" stroke-width="2.0"/>
<path d="M203.21 638.3V646.3M210.86 638.3V646.3" stroke-width="1.7"/>
<path d="M207.03 642.3V649.34" stroke-width="2.0"/>
<path d="M203.53 648.84L210.53 648.84L207.03 654.14Z" stroke-width="0.8" stroke-linejoin="miter"/>
<path d="M210.86 611.6H218.52" stroke-width="2.0"/>
<path d="M210.86 607.6V615.6M218.52 607.6V615.6" stroke-width="1.7"/>
<path d="M214.69 611.6V618.64" stroke-width="2.0"/>
<path d="M211.19 618.14L218.19 618.14L214.69 623.44Z" stroke-width="0.8" stroke-linejoin="miter"/>
<path d="M218.52 576H226.17" stroke-width="2.0"/>
<path d="M218.52 572V580M226.17 572V580" stroke-width="1.7"/>
<path d="M222.35 576V583.04" stroke-width="2.0"/>
<path d="M218.85 582.54L225.85 582.54L222.35 587.84Z" stroke-width="0.8" stroke-linejoin="miter"/>
<path d="M226.17 627.8H233.83" stroke-width="2.0"/>
<path d="M226.17 623.8V631.8M233.83 623.8V631.8" stroke-width="1.7"/>
<path d="M230 603.4V652.2" stroke-width="2.0"/>
<path d="M226 603.4H234M226 652.2H234" stroke-width="1.7"/>
<path d="M233.83 633.5H241.49" stroke-width="2.0"/>
<path d="M233.83 629.5V637.5M241.49 629.5V637.5" stroke-width="1.7"/>
<path d="M237.66 633.5V640.54" stroke-width="2.0"/>
<path d="M234.16 640.04L241.16 640.04L237.66 645.34Z" stroke-width="0.8" stroke-linejoin="miter"/>
<path d="M241.49 628.3H249.14" stroke-width="2.0"/>
<path d="M241.49 624.3V632.3M249.14 624.3V632.3" stroke-width="1.7"/>
<path d="M245.31 628.3V635.34" stroke-width="2.0"/>
<path d="M241.81 634.84L248.81 634.84L245.31 640.14Z" stroke-width="0.8" stroke-linejoin="miter"/>
<path d="M249.14 632.3H256.8" stroke-width="2.0"/>
<path d="M249.14 628.3V636.3M256.8 628.3V636.3" stroke-width="1.7"/>
<path d="M252.97 632.3V639.34" stroke-width="2.0"/>
<path d="M249.47 638.84L256.47 638.84L252.97 644.14Z" stroke-width="0.8" stroke-linejoin="miter"/>
<path d="M256.8 621.1H264.45" stroke-width="2.0"/>
<path d="M256.8 617.1V625.1M264.45 617.1V625.1" stroke-width="1.7"/>
<path d="M260.62 591.7V650.7" stroke-width="2.0"/>
<path d="M256.62 591.7H264.62M256.62 650.7H264.62" stroke-width="1.7"/>
<path d="M264.45 636.5H272.11" stroke-width="2.0"/>
<path d="M264.45 632.5V640.5M272.11 632.5V640.5" stroke-width="1.7"/>
<path d="M268.28 636.5V643.54" stroke-width="2.0"/>
<path d="M264.78 643.04L271.78 643.04L268.28 648.34Z" stroke-width="0.8" stroke-linejoin="miter"/>
<path d="M272.11 613.4H279.76" stroke-width="2.0"/>
<path d="M272.11 609.4V617.4M279.76 609.4V617.4" stroke-width="1.7"/>
<path d="M275.94 613.4V620.44" stroke-width="2.0"/>
<path d="M272.44 619.94L279.44 619.94L275.94 625.24Z" stroke-width="0.8" stroke-linejoin="miter"/>
<path d="M279.76 651.5H287.42" stroke-width="2.0"/>
<path d="M279.76 647.5V655.5M287.42 647.5V655.5" stroke-width="1.7"/>
<path d="M283.59 651.5V658.54" stroke-width="2.0"/>
<path d="M280.09 658.04L287.09 658.04L283.59 663.34Z" stroke-width="0.8" stroke-linejoin="miter"/>
<path d="M287.42 636.5H295.08" stroke-width="2.0"/>
<path d="M287.42 632.5V640.5M295.08 632.5V640.5" stroke-width="1.7"/>
<path d="M291.25 636.5V643.54" stroke-width="2.0"/>
<path d="M287.75 643.04L294.75 643.04L291.25 648.34Z" stroke-width="0.8" stroke-linejoin="miter"/>
<path d="M295.08 575H302.73" stroke-width="2.0"/>
<path d="M295.08 571V579M302.73 571V579" stroke-width="1.7"/>
<path d="M298.9 575V582.04" stroke-width="2.0"/>
<path d="M295.4 581.54L302.4 581.54L298.9 586.84Z" stroke-width="0.8" stroke-linejoin="miter"/>
<path d="M302.73 627.8H310.39" stroke-width="2.0"/>
<path d="M302.73 623.8V631.8M310.39 623.8V631.8" stroke-width="1.7"/>
<path d="M306.56 627.8V634.84" stroke-width="2.0"/>
<path d="M303.06 634.34L310.06 634.34L306.56 639.64Z" stroke-width="0.8" stroke-linejoin="miter"/>
<path d="M310.39 591.7H318.04" stroke-width="2.0"/>
<path d="M310.39 587.7V595.7M318.04 587.7V595.7" stroke-width="1.7"/>
<path d="M314.22 591.7V598.74" stroke-width="2.0"/>
<path d="M310.72 598.24L317.72 598.24L314.22 603.54Z" stroke-width="0.8" stroke-linejoin="miter"/>
<path d="M318.04 627.3H325.7" stroke-width="2.0"/>
<path d="M318.04 623.3V631.3M325.7 623.3V631.3" stroke-width="1.7"/>
<path d="M321.87 607.9V646.5" stroke-width="2.0"/>
<path d="M317.87 607.9H325.87M317.87 646.5H325.87" stroke-width="1.7"/>
<path d="M325.7 606.6H333.36" stroke-width="2.0"/>
<path d="M325.7 602.6V610.6M333.36 602.6V610.6" stroke-width="1.7"/>
<path d="M329.53 606.6V613.64" stroke-width="2.0"/>
<path d="M326.03 613.14L333.03 613.14L329.53 618.44Z" stroke-width="0.8" stroke-linejoin="miter"/>
<path d="M333.36 627.8H341.01" stroke-width="2.0"/>
<path d="M333.36 623.8V631.8M341.01 623.8V631.8" stroke-width="1.7"/>
<path d="M337.18 598.7V656.5" stroke-width="2.0"/>
<path d="M333.18 598.7H341.18M333.18 656.5H341.18" stroke-width="1.7"/>
<path d="M341.01 638.4H348.67" stroke-width="2.0"/>
<path d="M341.01 634.4V642.4M348.67 634.4V642.4" stroke-width="1.7"/>
<path d="M344.84 638.4V645.44" stroke-width="2.0"/>
<path d="M341.34 644.94L348.34 644.94L344.84 650.24Z" stroke-width="0.8" stroke-linejoin="miter"/>
<path d="M348.67 643.5H356.32" stroke-width="2.0"/>
<path d="M348.67 639.5V647.5M356.32 639.5V647.5" stroke-width="1.7"/>
<path d="M352.5 643.5V650.54" stroke-width="2.0"/>
<path d="M349 650.04L356 650.04L352.5 655.34Z" stroke-width="0.8" stroke-linejoin="miter"/>
<path d="M356.32 624.6H363.98" stroke-width="2.0"/>
<path d="M356.32 620.6V628.6M363.98 620.6V628.6" stroke-width="1.7"/>
<path d="M360.15 605.9V643.5" stroke-width="2.0"/>
<path d="M356.15 605.9H364.15M356.15 643.5H364.15" stroke-width="1.7"/>
<path d="M363.98 638.5H371.64" stroke-width="2.0"/>
<path d="M363.98 634.5V642.5M371.64 634.5V642.5" stroke-width="1.7"/>
<path d="M367.81 638.5V645.54" stroke-width="2.0"/>
<path d="M364.31 645.04L371.31 645.04L367.81 650.34Z" stroke-width="0.8" stroke-linejoin="miter"/>
<path d="M371.64 632.8H379.29" stroke-width="2.0"/>
<path d="M371.64 628.8V636.8M379.29 628.8V636.8" stroke-width="1.7"/>
<path d="M375.46 632.8V639.84" stroke-width="2.0"/>
<path d="M371.96 639.34L378.96 639.34L375.46 644.64Z" stroke-width="0.8" stroke-linejoin="miter"/>
<path d="M379.29 640.3H386.95" stroke-width="2.0"/>
<path d="M379.29 636.3V644.3M386.95 636.3V644.3" stroke-width="1.7"/>
<path d="M383.12 640.3V647.34" stroke-width="2.0"/>
<path d="M379.62 646.84L386.62 646.84L383.12 652.14Z" stroke-width="0.8" stroke-linejoin="miter"/>
<path d="M386.95 637.8H394.6" stroke-width="2.0"/>
<path d="M386.95 633.8V641.8M394.6 633.8V641.8" stroke-width="1.7"/>
<path d="M390.77 637.8V644.84" stroke-width="2.0"/>
<path d="M387.27 644.34L394.27 644.34L390.77 649.64Z" stroke-width="0.8" stroke-linejoin="miter"/>
<path d="M394.6 629H402.26" stroke-width="2.0"/>
<path d="M394.6 625V633M402.26 625V633" stroke-width="1.7"/>
<path d="M398.43 629V636.04" stroke-width="2.0"/>
<path d="M394.93 635.54L401.93 635.54L398.43 640.84Z" stroke-width="0.8" stroke-linejoin="miter"/>
<path d="M402.26 629.5H409.91" stroke-width="2.0"/>
<path d="M402.26 625.5V633.5M409.91 625.5V633.5" stroke-width="1.7"/>
<path d="M406.09 629.5V636.54" stroke-width="2.0"/>
<path d="M402.59 636.04L409.59 636.04L406.09 641.34Z" stroke-width="0.8" stroke-linejoin="miter"/>
<path d="M409.91 628.6H417.57" stroke-width="2.0"/>
<path d="M409.91 624.6V632.6M417.57 624.6V632.6" stroke-width="1.7"/>
<path d="M413.74 628.6V635.64" stroke-width="2.0"/>
<path d="M410.24 635.14L417.24 635.14L413.74 640.44Z" stroke-width="0.8" stroke-linejoin="miter"/>
<path d="M417.57 639.5H425.23" stroke-width="2.0"/>
<path d="M417.57 635.5V643.5M425.23 635.5V643.5" stroke-width="1.7"/>
<path d="M421.4 639.5V646.54" stroke-width="2.0"/>
<path d="M417.9 646.04L424.9 646.04L421.4 651.34Z" stroke-width="0.8" stroke-linejoin="miter"/>
<path d="M425.23 643.3H432.88" stroke-width="2.0"/>
<path d="M425.23 639.3V647.3M432.88 639.3V647.3" stroke-width="1.7"/>
<path d="M429.05 643.3V650.34" stroke-width="2.0"/>
<path d="M425.55 649.84L432.55 649.84L429.05 655.14Z" stroke-width="0.8" stroke-linejoin="miter"/>
<path d="M432.88 631H440.54" stroke-width="2.0"/>
<path d="M432.88 627V635M440.54 627V635" stroke-width="1.7"/>
<path d="M436.71 631V638.04" stroke-width="2.0"/>
<path d="M433.21 637.54L440.21 637.54L436.71 642.84Z" stroke-width="0.8" stroke-linejoin="miter"/>
<path d="M440.54 583H448.19" stroke-width="2.0"/>
<path d="M440.54 579V587M448.19 579V587" stroke-width="1.7"/>
<path d="M444.37 583V590.04" stroke-width="2.0"/>
<path d="M440.87 589.54L447.87 589.54L444.37 594.84Z" stroke-width="0.8" stroke-linejoin="miter"/>
<path d="M455.85 521.9H463.51" stroke-width="2.0"/>
<path d="M455.85 517.9V525.9M463.51 517.9V525.9" stroke-width="1.7"/>
<path d="M459.68 521.9V528.94" stroke-width="2.0"/>
<path d="M456.18 528.44L463.18 528.44L459.68 533.74Z" stroke-width="0.8" stroke-linejoin="miter"/>
<path d="M463.51 625.8H471.16" stroke-width="2.0"/>
<path d="M463.51 621.8V629.8M471.16 621.8V629.8" stroke-width="1.7"/>
<path d="M467.33 625.8V632.84" stroke-width="2.0"/>
<path d="M463.83 632.34L470.83 632.34L467.33 637.64Z" stroke-width="0.8" stroke-linejoin="miter"/>
<path d="M471.16 656.5H478.82" stroke-width="2.0"/>
<path d="M471.16 652.5V660.5M478.82 652.5V660.5" stroke-width="1.7"/>
<path d="M474.99 656.5V663.54" stroke-width="2.0"/>
<path d="M471.49 663.04L478.49 663.04L474.99 668.34Z" stroke-width="0.8" stroke-linejoin="miter"/>
<path d="M486.47 626.2H494.13" stroke-width="2.0"/>
<path d="M486.47 622.2V630.2M494.13 622.2V630.2" stroke-width="1.7"/>
<path d="M490.3 626.2V633.24" stroke-width="2.0"/>
<path d="M486.8 632.74L493.8 632.74L490.3 638.04Z" stroke-width="0.8" stroke-linejoin="miter"/>
<path d="M494.13 642.3H501.79" stroke-width="2.0"/>
<path d="M494.13 638.3V646.3M501.79 638.3V646.3" stroke-width="1.7"/>
<path d="M497.96 624.8V661" stroke-width="2.0"/>
<path d="M493.96 624.8H501.96M493.96 661H501.96" stroke-width="1.7"/>
<path d="M501.79 649.7H509.44" stroke-width="2.0"/>
<path d="M501.79 645.7V653.7M509.44 645.7V653.7" stroke-width="1.7"/>
<path d="M505.61 649.7V656.74" stroke-width="2.0"/>
<path d="M502.11 656.24L509.11 656.24L505.61 661.54Z" stroke-width="0.8" stroke-linejoin="miter"/>
<path d="M509.44 600.9H517.1" stroke-width="2.0"/>
<path d="M509.44 596.9V604.9M517.1 596.9V604.9" stroke-width="1.7"/>
<path d="M513.27 600.9V607.94" stroke-width="2.0"/>
<path d="M509.77 607.44L516.77 607.44L513.27 612.74Z" stroke-width="0.8" stroke-linejoin="miter"/>
<path d="M517.1 612.4H524.75" stroke-width="2.0"/>
<path d="M517.1 608.4V616.4M524.75 608.4V616.4" stroke-width="1.7"/>
<path d="M520.92 612.4V619.44" stroke-width="2.0"/>
<path d="M517.42 618.94L524.42 618.94L520.92 624.24Z" stroke-width="0.8" stroke-linejoin="miter"/>
<path d="M524.75 636.5H532.41" stroke-width="2.0"/>
<path d="M524.75 632.5V640.5M532.41 632.5V640.5" stroke-width="1.7"/>
<path d="M528.58 636.5V643.54" stroke-width="2.0"/>
<path d="M525.08 643.04L532.08 643.04L528.58 648.34Z" stroke-width="0.8" stroke-linejoin="miter"/>
<path d="M532.41 610.4H540.06" stroke-width="2.0"/>
<path d="M532.41 606.4V614.4M540.06 606.4V614.4" stroke-width="1.7"/>
<path d="M536.24 610.4V617.44" stroke-width="2.0"/>
<path d="M532.74 616.94L539.74 616.94L536.24 622.24Z" stroke-width="0.8" stroke-linejoin="miter"/>
<path d="M540.06 644H547.72" stroke-width="2.0"/>
<path d="M540.06 640V648M547.72 640V648" stroke-width="1.7"/>
<path d="M543.89 644V651.04" stroke-width="2.0"/>
<path d="M540.39 650.54L547.39 650.54L543.89 655.84Z" stroke-width="0.8" stroke-linejoin="miter"/>
<path d="M547.72 501.5H555.38" stroke-width="2.0"/>
<path d="M547.72 497.5V505.5M555.38 497.5V505.5" stroke-width="1.7"/>
<path d="M551.55 501.5V508.54" stroke-width="2.0"/>
<path d="M548.05 508.04L555.05 508.04L551.55 513.34Z" stroke-width="0.8" stroke-linejoin="miter"/>
<path d="M555.38 629.8H563.03" stroke-width="2.0"/>
<path d="M555.38 625.8V633.8M563.03 625.8V633.8" stroke-width="1.7"/>
<path d="M559.2 608.6V651.5" stroke-width="2.0"/>
<path d="M555.2 608.6H563.2M555.2 651.5H563.2" stroke-width="1.7"/>
<path d="M563.03 620.3H570.69" stroke-width="2.0"/>
<path d="M563.03 616.3V624.3M570.69 616.3V624.3" stroke-width="1.7"/>
<path d="M566.86 599.9V640.3" stroke-width="2.0"/>
<path d="M562.86 599.9H570.86M562.86 640.3H570.86" stroke-width="1.7"/>
<path d="M570.69 610.4H578.34" stroke-width="2.0"/>
<path d="M570.69 606.4V614.4M578.34 606.4V614.4" stroke-width="1.7"/>
<path d="M574.52 610.4V617.44" stroke-width="2.0"/>
<path d="M571.02 616.94L578.02 616.94L574.52 622.24Z" stroke-width="0.8" stroke-linejoin="miter"/>
<path d="M578.34 594.7H586" stroke-width="2.0"/>
<path d="M578.34 590.7V598.7M586 590.7V598.7" stroke-width="1.7"/>
<path d="M582.17 594.7V601.74" stroke-width="2.0"/>
<path d="M578.67 601.24L585.67 601.24L582.17 606.54Z" stroke-width="0.8" stroke-linejoin="miter"/>
<path d="M586 640.3H593.66" stroke-width="2.0"/>
<path d="M586 636.3V644.3M593.66 636.3V644.3" stroke-width="1.7"/>
<path d="M589.83 640.3V647.34" stroke-width="2.0"/>
<path d="M586.33 646.84L593.33 646.84L589.83 652.14Z" stroke-width="0.8" stroke-linejoin="miter"/>
<path d="M593.66 644H601.31" stroke-width="2.0"/>
<path d="M593.66 640V648M601.31 640V648" stroke-width="1.7"/>
<path d="M597.48 644V651.04" stroke-width="2.0"/>
<path d="M593.98 650.54L600.98 650.54L597.48 655.84Z" stroke-width="0.8" stroke-linejoin="miter"/>
<path d="M601.31 644H608.97" stroke-width="2.0"/>
<path d="M601.31 640V648M608.97 640V648" stroke-width="1.7"/>
<path d="M605.14 644V651.04" stroke-width="2.0"/>
<path d="M601.64 650.54L608.64 650.54L605.14 655.84Z" stroke-width="0.8" stroke-linejoin="miter"/>
<path d="M608.97 617.3H616.62" stroke-width="2.0"/>
<path d="M608.97 613.3V621.3M616.62 613.3V621.3" stroke-width="1.7"/>
<path d="M612.8 617.3V624.34" stroke-width="2.0"/>
<path d="M609.3 623.84L616.3 623.84L612.8 629.14Z" stroke-width="0.8" stroke-linejoin="miter"/>
<path d="M616.62 635.3H624.28" stroke-width="2.0"/>
<path d="M616.62 631.3V639.3M624.28 631.3V639.3" stroke-width="1.7"/>
<path d="M620.45 635.3V642.34" stroke-width="2.0"/>
<path d="M616.95 641.84L623.95 641.84L620.45 647.14Z" stroke-width="0.8" stroke-linejoin="miter"/>
<path d="M624.28 642.8H631.94" stroke-width="2.0"/>
<path d="M624.28 638.8V646.8M631.94 638.8V646.8" stroke-width="1.7"/>
<path d="M628.11 642.8V649.84" stroke-width="2.0"/>
<path d="M624.61 649.34L631.61 649.34L628.11 654.64Z" stroke-width="0.8" stroke-linejoin="miter"/>
<path d="M631.94 576H639.59" stroke-width="2.0"/>
<path d="M631.94 572V580M639.59 572V580" stroke-width="1.7"/>
<path d="M635.76 576V583.04" stroke-width="2.0"/>
<path d="M632.26 582.54L639.26 582.54L635.76 587.84Z" stroke-width="0.8" stroke-linejoin="miter"/>
<path d="M639.59 652.7H647.25" stroke-width="2.0"/>
<path d="M639.59 648.7V656.7M647.25 648.7V656.7" stroke-width="1.7"/>
<path d="M643.42 652.7V659.74" stroke-width="2.0"/>
<path d="M639.92 659.24L646.92 659.24L643.42 664.54Z" stroke-width="0.8" stroke-linejoin="miter"/>
<path d="M647.25 646.5H654.9" stroke-width="2.0"/>
<path d="M647.25 642.5V650.5M654.9 642.5V650.5" stroke-width="1.7"/>
<path d="M651.07 646.5V653.54" stroke-width="2.0"/>
<path d="M647.57 653.04L654.57 653.04L651.07 658.34Z" stroke-width="0.8" stroke-linejoin="miter"/>
<path d="M654.9 644H662.56" stroke-width="2.0"/>
<path d="M654.9 640V648M662.56 640V648" stroke-width="1.7"/>
<path d="M658.73 644V651.04" stroke-width="2.0"/>
<path d="M655.23 650.54L662.23 650.54L658.73 655.84Z" stroke-width="0.8" stroke-linejoin="miter"/>
<path d="M662.56 628.3H670.21" stroke-width="2.0"/>
<path d="M662.56 624.3V632.3M670.21 624.3V632.3" stroke-width="1.7"/>
<path d="M666.39 628.3V635.34" stroke-width="2.0"/>
<path d="M662.89 634.84L669.89 634.84L666.39 640.14Z" stroke-width="0.8" stroke-linejoin="miter"/>
<path d="M670.21 580.5H677.87" stroke-width="2.0"/>
<path d="M670.21 576.5V584.5M677.87 576.5V584.5" stroke-width="1.7"/>
<path d="M674.04 580.5V587.54" stroke-width="2.0"/>
<path d="M670.54 587.04L677.54 587.04L674.04 592.34Z" stroke-width="0.8" stroke-linejoin="miter"/>
<path d="M677.87 621.6H685.53" stroke-width="2.0"/>
<path d="M677.87 617.6V625.6M685.53 617.6V625.6" stroke-width="1.7"/>
<path d="M681.7 621.6V628.64" stroke-width="2.0"/>
<path d="M678.2 628.14L685.2 628.14L681.7 633.44Z" stroke-width="0.8" stroke-linejoin="miter"/>
<path d="M685.53 635.8H693.18" stroke-width="2.0"/>
<path d="M685.53 631.8V639.8M693.18 631.8V639.8" stroke-width="1.7"/>
<path d="M689.35 614.9V656.5" stroke-width="2.0"/>
<path d="M685.35 614.9H693.35M685.35 656.5H693.35" stroke-width="1.7"/>
<path d="M693.18 640.8H700.84" stroke-width="2.0"/>
<path d="M693.18 636.8V644.8M700.84 636.8V644.8" stroke-width="1.7"/>
<path d="M697.01 640.8V647.84" stroke-width="2.0"/>
<path d="M693.51 647.34L700.51 647.34L697.01 652.64Z" stroke-width="0.8" stroke-linejoin="miter"/>
<path d="M700.84 559.3H708.49" stroke-width="2.0"/>
<path d="M700.84 555.3V563.3M708.49 555.3V563.3" stroke-width="1.7"/>
<path d="M704.67 559.3V566.34" stroke-width="2.0"/>
<path d="M701.17 565.84L708.17 565.84L704.67 571.14Z" stroke-width="0.8" stroke-linejoin="miter"/>
<path d="M708.49 531.1H716.15" stroke-width="2.0"/>
<path d="M708.49 527.1V535.1M716.15 527.1V535.1" stroke-width="1.7"/>
<path d="M712.32 531.1V538.14" stroke-width="2.0"/>
<path d="M708.82 537.64L715.82 537.64L712.32 542.94Z" stroke-width="0.8" stroke-linejoin="miter"/>
<path d="M716.15 637.8H723.81" stroke-width="2.0"/>
<path d="M716.15 633.8V641.8M723.81 633.8V641.8" stroke-width="1.7"/>
<path d="M719.98 637.8V644.84" stroke-width="2.0"/>
<path d="M716.48 644.34L723.48 644.34L719.98 649.64Z" stroke-width="0.8" stroke-linejoin="miter"/>
<path d="M723.81 650.7H731.46" stroke-width="2.0"/>
<path d="M723.81 646.7V654.7M731.46 646.7V654.7" stroke-width="1.7"/>
<path d="M727.63 650.7V657.74" stroke-width="2.0"/>
<path d="M724.13 657.24L731.13 657.24L727.63 662.54Z" stroke-width="0.8" stroke-linejoin="miter"/>
<path d="M731.46 612.4H739.12" stroke-width="2.0"/>
<path d="M731.46 608.4V616.4M739.12 608.4V616.4" stroke-width="1.7"/>
<path d="M735.29 612.4V619.44" stroke-width="2.0"/>
<path d="M731.79 618.94L738.79 618.94L735.29 624.24Z" stroke-width="0.8" stroke-linejoin="miter"/>
<path d="M739.12 579.7H746.77" stroke-width="2.0"/>
<path d="M739.12 575.7V583.7M746.77 575.7V583.7" stroke-width="1.7"/>
<path d="M742.95 579.7V586.74" stroke-width="2.0"/>
<path d="M739.45 586.24L746.45 586.24L742.95 591.54Z" stroke-width="0.8" stroke-linejoin="miter"/>
<path d="M746.77 629H754.43" stroke-width="2.0"/>
<path d="M746.77 625V633M754.43 625V633" stroke-width="1.7"/>
<path d="M750.6 604.9V654" stroke-width="2.0"/>
<path d="M746.6 604.9H754.6M746.6 654H754.6" stroke-width="1.7"/>
<path d="M754.43 641.5H762.09" stroke-width="2.0"/>
<path d="M754.43 637.5V645.5M762.09 637.5V645.5" stroke-width="1.7"/>
<path d="M758.26 641.5V648.54" stroke-width="2.0"/>
<path d="M754.76 648.04L761.76 648.04L758.26 653.34Z" stroke-width="0.8" stroke-linejoin="miter"/>
<path d="M762.09 646.5H769.74" stroke-width="2.0"/>
<path d="M762.09 642.5V650.5M769.74 642.5V650.5" stroke-width="1.7"/>
<path d="M765.91 646.5V653.54" stroke-width="2.0"/>
<path d="M762.41 653.04L769.41 653.04L765.91 658.34Z" stroke-width="0.8" stroke-linejoin="miter"/>
<path d="M769.74 637.8H777.4" stroke-width="2.0"/>
<path d="M769.74 633.8V641.8M777.4 633.8V641.8" stroke-width="1.7"/>
<path d="M773.57 637.8V644.84" stroke-width="2.0"/>
<path d="M770.07 644.34L777.07 644.34L773.57 649.64Z" stroke-width="0.8" stroke-linejoin="miter"/>
<path d="M777.4 644H785.05" stroke-width="2.0"/>
<path d="M777.4 640V648M785.05 640V648" stroke-width="1.7"/>
<path d="M781.22 644V651.04" stroke-width="2.0"/>
<path d="M777.72 650.54L784.72 650.54L781.22 655.84Z" stroke-width="0.8" stroke-linejoin="miter"/>
<path d="M785.05 656.5H792.71" stroke-width="2.0"/>
<path d="M785.05 652.5V660.5M792.71 652.5V660.5" stroke-width="1.7"/>
<path d="M788.88 656.5V663.54" stroke-width="2.0"/>
<path d="M785.38 663.04L792.38 663.04L788.88 668.34Z" stroke-width="0.8" stroke-linejoin="miter"/>
<path d="M792.71 655.7H800.36" stroke-width="2.0"/>
<path d="M792.71 651.7V659.7M800.36 651.7V659.7" stroke-width="1.7"/>
<path d="M796.54 655.7V662.74" stroke-width="2.0"/>
<path d="M793.04 662.24L800.04 662.24L796.54 667.54Z" stroke-width="0.8" stroke-linejoin="miter"/>
<path d="M800.36 561.8H808.02" stroke-width="2.0"/>
<path d="M800.36 557.8V565.8M808.02 557.8V565.8" stroke-width="1.7"/>
<path d="M804.19 561.8V568.84" stroke-width="2.0"/>
<path d="M800.69 568.34L807.69 568.34L804.19 573.64Z" stroke-width="0.8" stroke-linejoin="miter"/>
<path d="M808.02 597.9H815.68" stroke-width="2.0"/>
<path d="M808.02 593.9V601.9M815.68 593.9V601.9" stroke-width="1.7"/>
<path d="M811.85 578V617.3" stroke-width="2.0"/>
<path d="M807.85 578H815.85M807.85 617.3H815.85" stroke-width="1.7"/>
<path d="M815.68 625.8H823.33" stroke-width="2.0"/>
<path d="M815.68 621.8V629.8M823.33 621.8V629.8" stroke-width="1.7"/>
<path d="M819.5 606.6V644" stroke-width="2.0"/>
<path d="M815.5 606.6H823.5M815.5 644H823.5" stroke-width="1.7"/>
<path d="M830.99 636.5H838.64" stroke-width="2.0"/>
<path d="M830.99 632.5V640.5M838.64 632.5V640.5" stroke-width="1.7"/>
<path d="M834.82 636.5V643.54" stroke-width="2.0"/>
<path d="M831.32 643.04L838.32 643.04L834.82 648.34Z" stroke-width="0.8" stroke-linejoin="miter"/>
<path d="M838.64 639H846.3" stroke-width="2.0"/>
<path d="M838.64 635V643M846.3 635V643" stroke-width="1.7"/>
<path d="M842.47 639V646.04" stroke-width="2.0"/>
<path d="M838.97 645.54L845.97 645.54L842.47 650.84Z" stroke-width="0.8" stroke-linejoin="miter"/>
</g>
<line x1="88.14" x2="88.14" y1="670" y2="446.7" stroke="#e60c20" stroke-width="2.2" stroke-dasharray="7.8 2.44"/>
<line x1="203.21" x2="203.21" y1="670" y2="446.7" stroke="#e60c20" stroke-width="2.2" stroke-dasharray="7.8 2.44"/>
<line x1="118.99" x2="118.99" y1="670" y2="446.7" stroke="#087408" stroke-width="2.2" stroke-dasharray="7.8 2.44"/>
<line x1="126.65" x2="126.65" y1="670" y2="446.7" stroke="#087408" stroke-width="2.2" stroke-dasharray="7.8 2.44"/>
</g>
<g stroke="#000" fill="none">
<rect x="65.4" y="0.7" width="780.9" height="222.9" stroke-width="1.75"/>
<path d="M141.96 223.6V217.1M141.96 0.7V7.2M295.08 223.6V217.1M295.08 0.7V7.2M448.19 223.6V217.1M448.19 0.7V7.2M601.31 223.6V217.1M601.31 0.7V7.2M754.43 223.6V217.1M754.43 0.7V7.2M65.4 223.6H71.9M65.4 137.87H71.9M65.4 52.14H71.9M846.3 223.6H839.8M846.3 174.07H839.8M846.3 124.53H839.8M846.3 75H839.8M846.3 25.47H839.8" stroke-width="1.7"/>
<rect x="65.4" y="223.6" width="780.9" height="223.1" stroke-width="1.75"/>
<path d="M141.96 446.7V440.2M141.96 223.6V230.1M295.08 446.7V440.2M295.08 223.6V230.1M448.19 446.7V440.2M448.19 223.6V230.1M601.31 446.7V440.2M601.31 223.6V230.1M754.43 446.7V440.2M754.43 223.6V230.1M65.4 446.7H71.9M65.4 381.08H71.9M65.4 315.46H71.9M65.4 249.85H71.9M846.3 446.7H839.8M846.3 397.12H839.8M846.3 347.54H839.8M846.3 297.97H839.8M846.3 248.39H839.8" stroke-width="1.7"/>
<rect x="65.4" y="446.7" width="780.9" height="223.3" stroke-width="1.75"/>
<path d="M141.96 670V663.5M141.96 446.7V453.2M295.08 670V663.5M295.08 446.7V453.2M448.19 670V663.5M448.19 446.7V453.2M601.31 670V663.5M601.31 446.7V453.2M754.43 670V663.5M754.43 446.7V453.2M65.4 670H71.9M65.4 604.55H71.9M65.4 539.11H71.9M65.4 473.66H71.9M846.3 670H839.8M846.3 623.91H839.8M846.3 577.82H839.8M846.3 531.73H839.8M846.3 485.64H839.8" stroke-width="1.7"/>
</g>
<g font-family="'DejaVu Sans', 'Liberation Sans', sans-serif" font-size="19.3" fill="#000" stroke="#000" stroke-width="0.45">
<text x="58.2" y="232.4" text-anchor="end">0</text>
<text x="58.2" y="146.67" text-anchor="end">5</text>
<text x="58.2" y="60.94" text-anchor="end">10</text>
<text x="853.1" y="232.4">0</text>
<text x="853.1" y="182.87">20</text>
<text x="853.1" y="133.33">40</text>
<text x="853.1" y="83.8">60</text>
<text x="853.1" y="34.27">80</text>
<text x="58.2" y="455.5" text-anchor="end">0</text>
<text x="58.2" y="389.88" text-anchor="end">5</text>
<text x="58.2" y="324.26" text-anchor="end">10</text>
<text x="58.2" y="258.65" text-anchor="end">15</text>
<text x="853.1" y="455.5">0</text>
<text x="853.1" y="405.92">20</text>
<text x="853.1" y="356.34">40</text>
<text x="853.1" y="306.77">60</text>
<text x="853.1" y="257.19">80</text>
<text x="58.2" y="678.8" text-anchor="end">0</text>
<text x="58.2" y="613.35" text-anchor="end">5</text>
<text x="58.2" y="547.91" text-anchor="end">10</text>
<text x="58.2" y="482.46" text-anchor="end">15</text>
<text x="853.1" y="678.8">0</text>
<text x="853.1" y="632.71">20</text>
<text x="853.1" y="586.62">40</text>
<text x="853.1" y="540.53">60</text>
<text x="853.1" y="494.44">80</text>
<text x="141.66" y="693.2" text-anchor="middle">57800</text>
<text x="294.78" y="693.2" text-anchor="middle">58000</text>
<text x="447.89" y="693.2" text-anchor="middle">58200</text>
<text x="601.01" y="693.2" text-anchor="middle">58400</text>
<text x="754.13" y="693.2" text-anchor="middle">58600</text>
</g>
<rect x="653.6" y="11.05" width="182.7" height="33.6" rx="3.2" ry="3.2" fill="#ffffff" fill-opacity="0.8" stroke="#d0d0d0" stroke-width="1.8"/>
<g stroke="#0606d4" fill="none">
<path d="M671 26.4H691.4M681.2 16.4V36.4" stroke-width="2.0"/>
<path d="M671 22.4V30.4M691.4 22.4V30.4M677.2 16.4H685.2M677.2 36.4H685.2" stroke-width="1.7"/>
</g>
<text x="716.3" y="33.6" font-family="'DejaVu Sans', 'Liberation Sans', sans-serif" font-size="19.3" fill="#000" stroke="#000" stroke-width="0.45">30 days bin</text>
<rect x="653.6" y="233.95" width="182.7" height="33.6" rx="3.2" ry="3.2" fill="#ffffff" fill-opacity="0.8" stroke="#d0d0d0" stroke-width="1.8"/>
<g stroke="#0606d4" fill="none">
<path d="M671 249.3H691.4M681.2 239.3V259.3" stroke-width="2.0"/>
<path d="M671 245.3V253.3M691.4 245.3V253.3M677.2 239.3H685.2M677.2 259.3H685.2" stroke-width="1.7"/>
</g>
<text x="716.3" y="256.5" font-family="'DejaVu Sans', 'Liberation Sans', sans-serif" font-size="19.3" fill="#000" stroke="#000" stroke-width="0.45">15 days bin</text>
<rect x="653.6" y="457.05" width="182.7" height="33.6" rx="3.2" ry="3.2" fill="#ffffff" fill-opacity="0.8" stroke="#d0d0d0" stroke-width="1.8"/>
<g stroke="#0606d4" fill="none">
<path d="M671 472.4H691.4M681.2 462.4V482.4" stroke-width="2.0"/>
<path d="M671 468.4V476.4M691.4 468.4V476.4M677.2 462.4H685.2M677.2 482.4H685.2" stroke-width="1.7"/>
</g>
<text x="716.3" y="479.6" font-family="'DejaVu Sans', 'Liberation Sans', sans-serif" font-size="19.3" fill="#000" stroke="#000" stroke-width="0.45">10 days bin</text>
<text x="455.7" y="718.5" text-anchor="middle" font-family="'DejaVu Sans', 'Liberation Sans', sans-serif" font-size="19.3" fill="#000" stroke="#000" stroke-width="0.45">MJD</text>
<g transform="translate(18.4 430) rotate(-90)" font-family="'DejaVu Sans', 'Liberation Sans', sans-serif" font-size="19.3" fill="#000" stroke="#000" stroke-width="0.45">
<text x="6.5" y="0">10</text>
<text x="31.1" y="-7.6" font-size="13.5">8</text>
<text x="44.3" y="0">×</text>
<text x="70.9" y="0">ph cm</text>
<text x="130.5" y="-7.6" font-size="13.5">−2</text>
<text x="158" y="0">s</text>
<text x="169.5" y="-7.6" font-size="13.5">−1</text>
</g>
<text transform="translate(903.1 332.2) rotate(-90)" font-family="'DejaVu Sans', 'Liberation Sans', sans-serif" font-size="23.7" fill="#000" stroke="#000" stroke-width="0.45">Value</text>
<text transform="translate(903.1 428.3) rotate(-90)" font-family="'DejaVu Sans', 'Liberation Sans', sans-serif" font-size="23.7" fill="#000" stroke="#000" stroke-width="0.45">TS</text>
</svg>
</body>
</html>
